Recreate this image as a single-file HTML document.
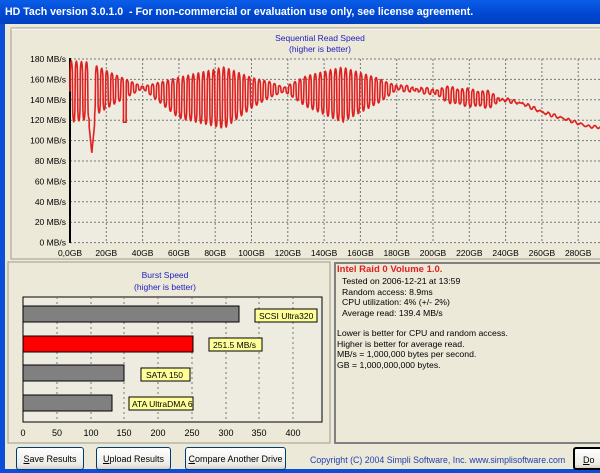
<!DOCTYPE html>
<html><head><meta charset="utf-8"><style>
body{margin:0;width:600px;height:473px;overflow:hidden;background:#ECE9D8;font-family:"Liberation Sans",sans-serif;position:relative}
.abs{position:absolute;white-space:nowrap}
.tb{left:0;top:0;width:600px;height:24px;background:linear-gradient(#0A5DE8,#0047D0 60%,#0040C0);color:#fff;font-weight:bold;font-size:10.6px;line-height:25px;padding-left:5px;box-sizing:border-box}
.btn{top:447px;height:23px;border:1px solid #003C74;border-radius:3px;background:linear-gradient(#fff,#ECEBE6 80%,#D6D0C5);font-size:9px;line-height:22px;text-align:center;box-sizing:border-box}
.info{font-size:8.7px;line-height:10.5px;color:#000;white-space:pre}
</style></head><body>
<div class="abs tb">HD Tach version 3.0.1.0 &nbsp;- For non-commercial or evaluation use only, see license agreement.</div>
<div class="abs" style="left:0;top:24px;width:5px;height:449px;background:#0B4ED8"></div>
<div class="abs" style="left:0;top:469px;width:600px;height:4px;background:#0B4ED8"></div>
<svg class="abs" style="left:0;top:0" width="600" height="473" font-family="Liberation Sans, sans-serif">
<rect x="11" y="28" width="600" height="231" fill="none" stroke="#A09C8C"/>
<line x1="11" y1="29" x2="600" y2="29" stroke="#fff"/>
<text x="320" y="41" font-size="8.5" fill="#2020C0" text-anchor="middle">Sequential Read Speed</text>
<text x="320" y="52" font-size="8.5" fill="#2020C0" text-anchor="middle">(higher is better)</text>
<rect x="70" y="59" width="540" height="184" fill="#EEEBE0"/>
<g id="grid" stroke="#777" stroke-dasharray="2,2" stroke-width="1"></g>
<line x1="70" y1="58" x2="70" y2="243" stroke="#000" stroke-width="2"/>
<g id="ylab" font-size="8.5" text-anchor="end" fill="#000"></g>
<g id="xlab" font-size="8.5" text-anchor="middle" fill="#000"></g>
<polyline id="wave" fill="none" stroke="#E02020" stroke-width="1.6"/>
<rect x="8" y="262" width="322" height="181" fill="none" stroke="#A09C8C"/>
<text x="165" y="278" font-size="8.5" fill="#2020C0" text-anchor="middle">Burst Speed</text>
<text x="165" y="290" font-size="8.5" fill="#2020C0" text-anchor="middle">(higher is better)</text>
<rect x="23" y="297" width="299" height="125" fill="#EEEBE0" stroke="#000"/>
<g stroke="#777" stroke-dasharray="2,3">
<line x1="57" y1="297" x2="57" y2="422"/><line x1="91" y1="297" x2="91" y2="422"/><line x1="124" y1="297" x2="124" y2="422"/><line x1="158" y1="297" x2="158" y2="422"/><line x1="192" y1="297" x2="192" y2="422"/><line x1="226" y1="297" x2="226" y2="422"/><line x1="259" y1="297" x2="259" y2="422"/><line x1="293" y1="297" x2="293" y2="422"/>
</g>
<rect x="23" y="306" width="216" height="16" fill="#808080" stroke="#000"/>
<rect x="23" y="336" width="170" height="16" fill="#FF0000" stroke="#000"/>
<rect x="23" y="365" width="101" height="16" fill="#808080" stroke="#000"/>
<rect x="23" y="395" width="89" height="16" fill="#808080" stroke="#000"/>
<g font-size="8.5" fill="#000">
<rect x="255" y="309" width="62" height="13" fill="#FFFF99" stroke="#000"/><text x="259" y="319">SCSI Ultra320</text>
<rect x="209" y="338" width="53" height="13" fill="#FFFF99" stroke="#000"/><text x="213" y="348">251.5 MB/s</text>
<rect x="141" y="368" width="49" height="13" fill="#FFFF99" stroke="#000"/><text x="146" y="378">SATA 150</text>
<rect x="129" y="397" width="64" height="13" fill="#FFFF99" stroke="#000"/><text x="132" y="407">ATA UltraDMA 6</text>
</g>
<g font-size="9" fill="#000" text-anchor="middle">
<text x="23" y="436">0</text><text x="57" y="436">50</text><text x="91" y="436">100</text><text x="124" y="436">150</text><text x="158" y="436">200</text><text x="192" y="436">250</text><text x="226" y="436">300</text><text x="259" y="436">350</text><text x="293" y="436">400</text>
</g>
<rect x="335" y="263" width="270" height="180" fill="none" stroke="#808080" stroke-width="2"/>
</svg>
<div class="abs" style="left:337px;top:264px;font-size:9.5px;font-weight:bold;color:#E02020">Intel Raid 0 Volume 1.0.</div>
<div class="abs info" style="left:342px;top:276px">Tested on 2006-12-21 at 13:59
Random access: 8.9ms
CPU utilization: 4% (+/- 2%)
Average read: 139.4 MB/s</div>
<div class="abs info" style="left:337px;top:328px">Lower is better for CPU and random access.
Higher is better for average read.
MB/s = 1,000,000 bytes per second.
GB = 1,000,000,000 bytes.</div>
<div class="abs btn" style="left:16px;width:68px"><u>S</u>ave Results</div>
<div class="abs btn" style="left:96px;width:75px"><u>U</u>pload Results</div>
<div class="abs btn" style="left:185px;width:101px"><u>C</u>ompare Another Drive</div>
<div class="abs" style="left:310px;top:455px;font-size:8.8px;color:#2040B0">Copyright (C) 2004 Simpli Software, Inc. www.simplisoftware.com</div>
<div class="abs btn" style="left:573px;width:40px;text-align:left;padding-left:8px;border:2px solid #000"><u>D</u>o</div>
<script>
var ns="http://www.w3.org/2000/svg";
function X(gb){return 70+gb*36.3/20}
function Y(v){return 242.6-v*183.6/180}
var g=document.getElementById('grid'),yl=document.getElementById('ylab'),xl=document.getElementById('xlab');
function el(t,a,p,txt){var e=document.createElementNS(ns,t);for(var k in a)e.setAttribute(k,a[k]);if(txt)e.textContent=txt;p.appendChild(e);}
for(var v=0;v<=180;v+=20){var y=Y(v);el('line',{x1:70,x2:600,y1:y,y2:y},g);el('text',{x:66,y:y+3},yl,v+' MB/s');}
for(var b=0;b<=300;b+=20){var x=X(b);if(b>0)el('line',{x1:x,x2:x,y1:59,y2:243},g);el('text',{x:x,y:256},xl,b==0?'0,0GB':b+'GB');}
function interp(t,gb){for(var i=1;i<t.length;i++){if(gb<=t[i][0]){var a=t[i-1],c=t[i];return a[1]+(c[1]-a[1])*(gb-a[0])/(c[0]-a[0]);}}return t[t.length-1][1];}
var C=[[0,148],[20,150],[40,152],[60,142],[85,142],[110,150],[120,150],[150,145],[175,150],[180,152],[200,148],[215,143],[232,140],[240,140],[250,136],[260,128],[275,120],[285,114],[300,112]];
var A=[[0,30],[10,28],[25,14],[40,1],[60,20],[85,30],[100,15],[118,2],[130,15],[150,27],[170,12],[180,2],[200,2],[210,8],[230,8],[238,1],[300,0]];
var pts=[];var P=2.8;
for(var gb=0;gb<=295;gb+=0.1){var s=Math.sin(2*Math.PI*gb/P);var sq=s>0?Math.pow(s,0.3):-Math.pow(-s,0.3);var v=interp(C,gb)+interp(A,gb)*sq;
if(gb>10.5&&gb<13.5)v=Math.min(v,88+Math.abs(gb-12)*18);
if(gb>29.5&&gb<31)v=Math.min(v,118);
if(gb>180){v=interp(C,gb)+interp(A,gb)*sq+Math.sin(gb*1.7)*1.2;}
pts.push(X(gb).toFixed(1)+','+Y(v).toFixed(1));}
document.getElementById('wave').setAttribute('points',pts.join(' '));
</script>
</body></html>
